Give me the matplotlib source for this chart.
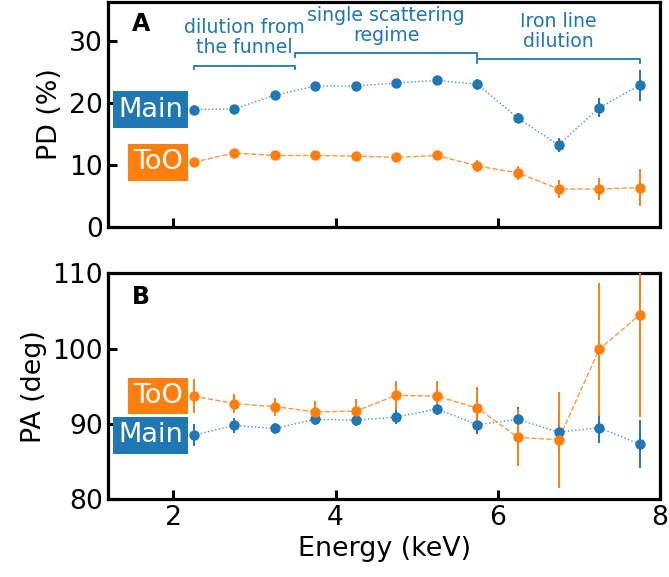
import numpy as np
import matplotlib
matplotlib.use("Agg")
import matplotlib.pyplot as plt

# Energy bin centres (keV)
energy = [2.25, 2.75, 3.25, 3.75, 4.25, 4.75, 5.25, 5.75, 6.25, 6.75, 7.25, 7.75]

# Polarization degree (%)
pd_main = [18.9, 19.0, 21.2, 22.7, 22.7, 23.2, 23.6, 23.0, 17.5, 13.2, 19.2, 22.8]
pd_main_err = [0.8, 0.5, 0.5, 0.5, 0.5, 0.5, 0.6, 0.9, 0.8, 1.1, 1.5, 2.5]
pd_too = [10.4, 11.9, 11.5, 11.5, 11.4, 11.2, 11.5, 9.8, 8.7, 6.1, 6.1, 6.3]
pd_too_err = [0.6, 0.5, 0.5, 0.5, 0.5, 0.5, 0.6, 1.0, 1.1, 1.4, 1.8, 3.0]

# Polarization angle (deg)
pa_main = [88.5, 89.8, 89.4, 90.6, 90.5, 90.9, 92.0, 89.9, 90.6, 88.9, 89.5, 87.3]
pa_main_err = [1.5, 1.0, 0.7, 0.7, 0.75, 0.9, 0.8, 1.2, 1.7, 2.5, 2.1, 3.2]
pa_too = [93.7, 92.7, 92.3, 91.6, 91.7, 93.8, 93.7, 92.1, 88.2, 87.9, 99.9, 104.5]
pa_too_err = [2.3, 1.3, 1.2, 1.4, 1.55, 1.9, 2.0, 2.8, 3.8, 6.4, 8.8, 13.6]

# Spectral-regime brackets: (start, end, height, label, label height)
regimes = [
    (2.25, 3.5, 26.0, "dilution from\nthe funnel", 27.4),
    (3.5, 5.75, 28.0, "single scattering\nregime", 29.4),
    (5.75, 7.75, 27.0, "Iron line\ndilution", 28.4),
]

BLUE = "#1f77b4"
ORANGE = "#ff7f0e"

fig = plt.figure(figsize=(6.69, 5.77), dpi=100)
axA = fig.add_axes([0.162, 0.607, 0.8245, 0.39])
axB = fig.add_axes([0.162, 0.135, 0.8245, 0.391])

tick_fs = 19.2
label_fs = 19.4


def draw_series(ax, y, yerr, color, ls):
    ax.errorbar(energy, y, yerr=yerr, fmt="o", color=color, ms=6.5,
                elinewidth=1.4, capsize=0, zorder=3)
    ax.plot(energy, y, ls=ls, color=color, lw=1.0, alpha=0.8, zorder=2)


def tag(ax, y, text, color):
    ax.text(2.12, y, text, ha="right", va="center", color="white",
            fontsize=19.5, zorder=5,
            bbox=dict(boxstyle="square,pad=0.2", fc=color, ec="none"))


for ax in (axA, axB):
    ax.set_xlim(1.2, 8)
    ax.set_xticks([2, 4, 6, 8])
    ax.tick_params(direction="in", length=6.2, width=2.2, labelsize=tick_fs,
                   top=False, right=False, pad=4)
    for s in ax.spines.values():
        s.set_linewidth(2.3)

# Panel A: polarization degree
draw_series(axA, pd_main, pd_main_err, BLUE, ":")
draw_series(axA, pd_too, pd_too_err, ORANGE, "--")
axA.set_ylim(0, 36.3)
axA.set_yticks([0, 10, 20, 30])
axA.tick_params(labelbottom=False)
axA.set_ylabel("PD (%)", fontsize=label_fs)
tag(axA, pd_main[0], "Main", BLUE)
tag(axA, pd_too[0], "ToO", ORANGE)
axA.text(0.042, 0.955, "A", transform=axA.transAxes, fontsize=17,
         fontweight="bold", ha="left", va="top")

for x0, x1, yb, txt, yt in regimes:
    axA.plot([x0, x0, x1, x1], [yb - 0.6, yb, yb, yb - 0.6],
             color=BLUE, lw=1.3, zorder=1)
    axA.text((x0 + x1) / 2, yt, txt, ha="center", va="bottom",
             color=BLUE, fontsize=13.6, linespacing=1.05)

# Panel B: polarization angle
draw_series(axB, pa_main, pa_main_err, BLUE, ":")
draw_series(axB, pa_too, pa_too_err, ORANGE, "--")
axB.set_ylim(80, 110)
axB.set_yticks([80, 90, 100, 110])
axB.set_ylabel("PA (deg)", fontsize=label_fs)
axB.set_xlabel("Energy (keV)", fontsize=label_fs)
tag(axB, pa_main[0], "Main", BLUE)
tag(axB, pa_too[0], "ToO", ORANGE)
axB.text(0.042, 0.95, "B", transform=axB.transAxes, fontsize=17,
         fontweight="bold", ha="left", va="top")

fig.savefig("out.png", dpi=100)
